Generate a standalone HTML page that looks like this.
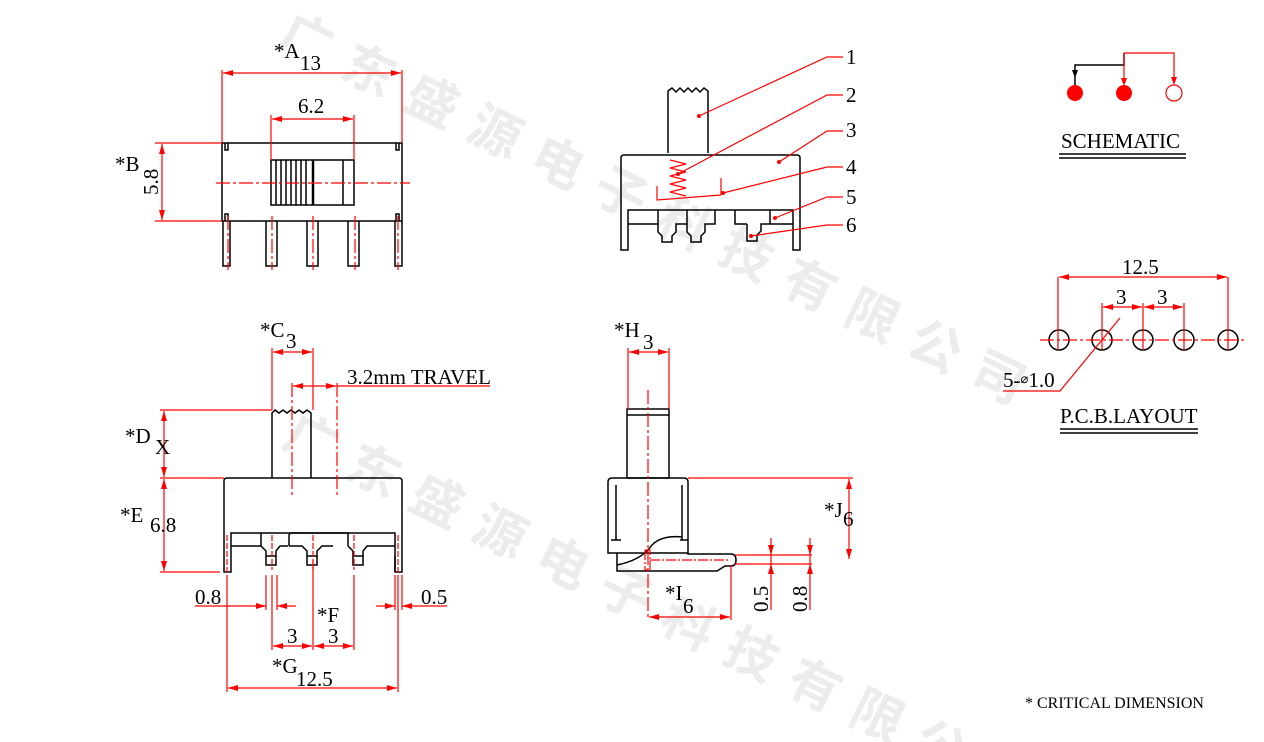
<!DOCTYPE html>
<html><head><style>html,body{margin:0;background:#fff;overflow:hidden;width:1264px;height:742px}svg{display:block}text{font-family:"Liberation Serif",serif;font-size:21px;fill:#000}</style></head>
<body>
<svg width="1264" height="742" viewBox="0 0 1264 742" xmlns="http://www.w3.org/2000/svg" overflow="hidden">
<!-- watermark -->
<text transform="translate(275,45) rotate(26)" letter-spacing="18" style="font-family:'Noto Sans CJK SC',sans-serif;fill:#ececec;font-size:52px;font-weight:bold">广东盛源电子科技有限公司</text>
<text transform="translate(280,445) rotate(26)" letter-spacing="18" style="font-family:'Noto Sans CJK SC',sans-serif;fill:#ececec;font-size:52px;font-weight:bold">广东盛源电子科技有限公</text>
<g fill="none" stroke="#000" stroke-width="1.5">
<!-- top-left view -->
<rect x="222" y="143" width="180" height="78"/>
<path d="M225,143v7h3v-7M399,143v7h-3v-7M225,221v-7h3v7M399,221v-7h-3v7"/>
<rect x="271" y="160" width="83" height="45"/>
<path d="M276,160v45M281,160v45M286,160v45M291,160v45M296,160v45M301,160v45M306,160v45M343,160v45"/>
<path d="M313,160v45" stroke-width="2.5"/>
<path d="M223,221v45h7v-45M266,221v45h11v-45M307,221v45h11v-45M348,221v45h11v-45M395,221v45h7v-45"/>
<!-- top-right view -->
<path d="M668,153V91l4,-3l4,4l4,-4l4,4l4,-4l4,4l4,-4l4,4l4,-4l4,3V153"/>
<path d="M621,250V158q0,-3 3,-3h173q3,0 3,3V250h-7V210H628V250z"/>
<path d="M628,224H658M658,210v14M658,224v8l4,4v6h10v-6l4,-4v-8h11v-14M687,210v14M687,224v8l4,4v6h10v-6l4,-4v-8h10v-14M735,210v14h12M747,224v17h10v-6l4,-4v-7h32M770,210v14"/>
<!-- bottom-left view -->
<path d="M272,478V413l3,-3l4,3l4,-3l4,3l4,-3l4,3l4,-3l4,3l4,-3l4,3V478"/>
<path d="M224,572V481q0,-3 3,-3h172q3,0 3,3V572h-7V533H231V572z"/>
<path d="M231,546h30v-13M261,546l5,5v5h10v-5l4,-5h8"/>
<path d="M289,546V536q0,-3 3,-3h56v13"/>
<path d="M289,546h13l5,5v5h10v-5l5,-5h11"/>
<path d="M348,546l5,5v5h10v-5l4,-5h28"/>
<path d="M266,556v9h10v-9M307,556v9h10v-9M353,556v9h10v-9M395,556v16"/>
<!-- bottom-middle view -->
<rect x="627" y="409" width="42" height="69"/>
<path d="M627,415h42"/>
<path d="M608,553V482q0,-4 4,-4h72q4,0 4,4V553z"/>
<path d="M616,485v55M682,485v55M611,540h10M680,540h8"/>
<path d="M617,553v18h100l8,-5h6q5,0 5,-6t-5,-6H688v-1M617,565q25,-5 35,-20q10,-10 30,-8"/>
<!-- schematic black -->
<path d="M1075,86V65H1124V53"/>
<!-- pcb circles -->
<circle cx="1059" cy="340" r="10"/><circle cx="1102" cy="340" r="10"/><circle cx="1143" cy="340" r="10"/><circle cx="1184" cy="340" r="10"/><circle cx="1228" cy="340" r="10"/>
<path d="M1059,154H1186M1059,158H1186M1060,429H1198M1060,433H1198"/>
</g>
<path d="M1075,78l-3,-8h6z" fill="#000"/>
<g fill="none" stroke="#f00" stroke-width="1.2">
<path d="M222,70V143M402,70V143M271,115V160M354,115V160M155,143H222M155,221H222"/>
<path d="M223,73H401M272,119H353M162,144V220"/>
<path d="M216,183H410M228,216V270M272,216V270M313,216V270M355,216V270M398,216V270" stroke-dasharray="14,3,3,3"/>
<path d="M699,116L827,57H843M678,174L827,95H843M779,162L827,131H843M723,193L827,167H843M775,218L827,197H843M751,236L827,225H843"/>
<path d="M670,160l16,4l-16,4l16,4l-16,4l16,4l-16,4l16,4l-16,4l16,4M657,186v14l64,-5M721,178v17"/>
<path d="M272,348V410M313,348V410M160,410H272M160,478H224M160,572H220"/>
<path d="M273,352H312M164,411V477M164,479V571M273,646H312M314,646H353M228,688H397M293,386H336"/>
<path d="M337,386H490"/>
<path d="M292,383V495M337,383V495" stroke-dasharray="14,3,3,3"/>
<path d="M227,575V692M398,575V692M272,575V650M313,560V650M354,575V650M266,575V610M277,575V610M395,575V610M402,575V610"/>
<path d="M195,606H266M277,606H296M376,606H395M402,606H447"/>
<path d="M227,535V575M272,535V570M313,535V570M354,535V570M398,535V575" stroke-dasharray="6,2"/>
<path d="M628,348V409M669,348V409M688,478H853M735,555H812M735,564H812M731,565V620M771,538V610M810,538V610"/>
<path d="M629,352H668M849,479V559M649,617H730"/>
<path d="M648,390V620" stroke-dasharray="14,3,3,3"/>
<path d="M645,550h5v20M645,550v20h3M650,560H730" stroke-dasharray="10,2,2,2"/>
<path d="M1124,78V53H1174V78"/>
<circle cx="1174" cy="93" r="8"/>
<path d="M1058,277V350M1228,277V350M1102,303V350M1143,303V350M1184,303V350"/>
<path d="M1059,277H1227M1103,307H1142M1144,307H1183"/>
<path d="M1040,340H1245" stroke-dasharray="14,3,3,3"/>
<path d="M1003,391H1060L1120,318"/>
</g>
<g fill="#f00">
<!-- arrowheads -->
<path d="M223,73l10,-3v6zM401,73l-10,-3v6zM272,119l10,-3v6zM353,119l-10,-3v6zM162,144l-3,10h6zM162,220l-3,-10h6z"/>
<path d="M273,352l10,-3v6zM312,352l-10,-3v6zM293,386l10,-3v6zM336,386l-10,-3v6z"/>
<path d="M164,411l-3,10h6zM164,477l-3,-10h6zM164,479l-3,10h6zM164,571l-3,-10h6z"/>
<path d="M273,646l10,-3v6zM312,646l-10,-3v6zM314,646l10,-3v6zM353,646l-10,-3v6zM228,688l10,-3v6zM397,688l-10,-3v6z"/>
<path d="M266,606l-10,-3v6zM277,606l10,-3v6zM395,606l-10,-3v6zM402,606l10,-3v6z"/>
<path d="M629,352l10,-3v6zM668,352l-10,-3v6zM849,479l-3,10h6zM849,559l-3,-10h6zM649,617l10,-3v6zM730,617l-10,-3v6z"/>
<path d="M771,555l-3,-10h6zM771,564l-3,10h6zM810,555l-3,-10h6zM810,564l-3,10h6z"/>
<path d="M1059,277l10,-3v6zM1227,277l-10,-3v6zM1103,307l10,-3v6zM1142,307l-10,-3v6zM1144,307l10,-3v6zM1183,307l-10,-3v6z"/>
<path d="M1124,86l-3,-8h6zM1174,85l-3,-8h6z"/>
<circle cx="1075" cy="93" r="8"/><circle cx="1124" cy="93" r="8"/>
<circle cx="699" cy="116" r="2"/><circle cx="678" cy="174" r="2"/><circle cx="779" cy="162" r="2"/><circle cx="723" cy="193" r="2"/><circle cx="775" cy="218" r="2"/><circle cx="751" cy="236" r="2"/>
</g>
<text x="274" y="58">*A</text><text x="300" y="70">13</text>
<text x="298" y="113">6.2</text>
<text x="115" y="171">*B</text>
<text transform="translate(158,195) rotate(-90)">5.8</text>
<text x="846" y="64">1</text><text x="846" y="102">2</text><text x="846" y="137">3</text><text x="846" y="174">4</text><text x="846" y="204">5</text><text x="846" y="232">6</text>
<text x="260" y="337">*C</text><text x="286" y="348">3</text>
<text x="347" y="384">3.2mm TRAVEL</text>
<text x="125" y="443">*D</text><text x="155" y="454">X</text>
<text x="120" y="522">*E</text><text x="150" y="532">6.8</text>
<text x="195" y="604">0.8</text><text x="421" y="604">0.5</text>
<text x="317" y="622">*F</text>
<text x="287" y="643">3</text><text x="328" y="643">3</text>
<text x="272" y="673">*G</text><text x="296" y="686">12.5</text>
<text x="614" y="337">*H</text><text x="643" y="349">3</text>
<text x="824" y="517">*J</text><text x="843" y="526">6</text>
<text x="665" y="600">*I</text><text x="683" y="613">6</text>
<text transform="translate(768,612) rotate(-90)">0.5</text>
<text transform="translate(807,612) rotate(-90)">0.8</text>
<text x="1061" y="148">SCHEMATIC</text>
<text x="1122" y="274">12.5</text>
<text x="1116" y="304">3</text><text x="1157" y="304">3</text>
<text x="1003" y="387">5-<tspan font-size="13" dy="-4">⌀</tspan><tspan dy="4">1.0</tspan></text>
<text x="1060" y="423">P.C.B.LAYOUT</text>
<text x="1025" y="708" style="font-size:16px">* CRITICAL  DIMENSION</text>
</svg>
</body></html>
